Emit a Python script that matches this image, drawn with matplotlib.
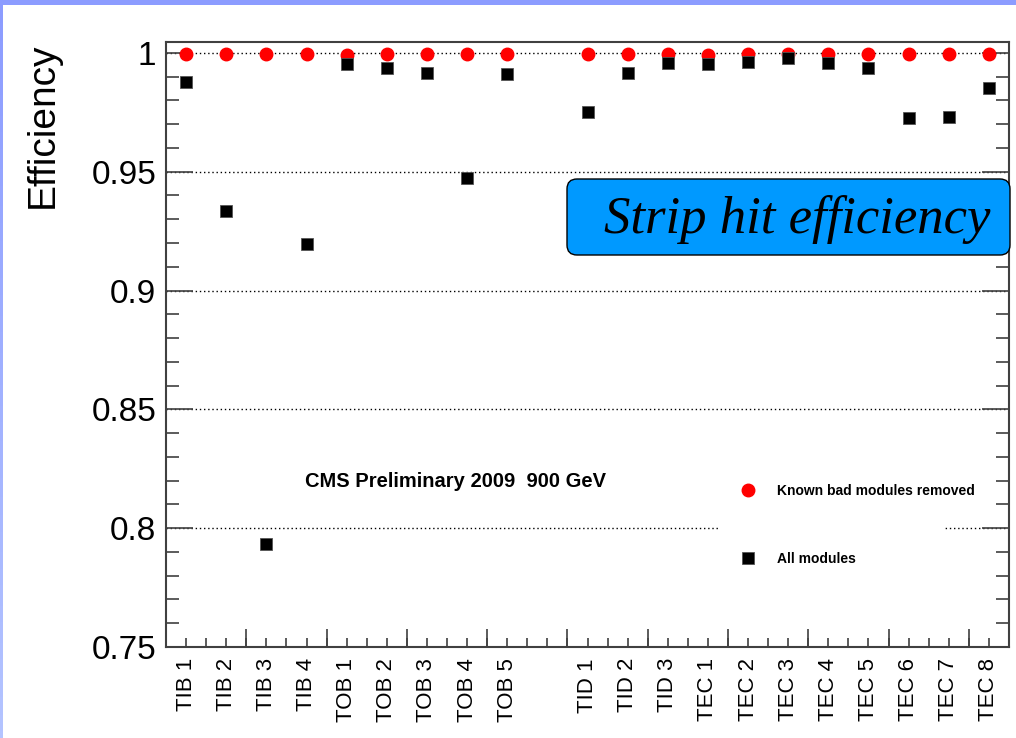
import matplotlib
matplotlib.use("Agg")
import matplotlib.pyplot as plt
import numpy as np
from matplotlib.patches import FancyBboxPatch, Rectangle
from matplotlib.transforms import IdentityTransform

plt.rcParams['font.family'] = ['Liberation Sans', 'DejaVu Sans']

# Layers of the strip tracker, with an empty slot between TOB and TID
layers = ["TIB 1", "TIB 2", "TIB 3", "TIB 4",
          "TOB 1", "TOB 2", "TOB 3", "TOB 4", "TOB 5",
          "TID 1", "TID 2", "TID 3",
          "TEC 1", "TEC 2", "TEC 3", "TEC 4", "TEC 5", "TEC 6", "TEC 7", "TEC 8"]
eff_good = [0.9995, 0.9995, 0.9995, 0.9995,
            0.9993, 0.9995, 0.9995, 0.9995, 0.9995,
            0.9995, 0.9995, 0.9994,
            0.9992, 0.9994, 0.9997, 0.9994, 0.9994, 0.9995, 0.9995, 0.9995]
eff_all = [0.9877, 0.9335, 0.7934, 0.9194,
           0.9955, 0.9938, 0.9917, 0.9474, 0.9911,
           0.9751, 0.9917, 0.9958,
           0.9955, 0.9962, 0.9979, 0.9958, 0.9938, 0.9724, 0.9730, 0.9851]

pos = np.r_[0:9, 10:21]

W, H = 1016, 738
fig = plt.figure(figsize=(W / 100, H / 100), dpi=100)

# slide frame strips
fig.add_artist(Rectangle((0, H - 5), W, 5, transform=IdentityTransform(),
                         fc='#8c9cff', ec='none'))
grad = fig.add_axes([0, 0, 3 / W, 1])
grad.imshow(np.linspace(0, 1, 100).reshape(-1, 1), aspect='auto',
            cmap=matplotlib.colors.LinearSegmentedColormap.from_list('f', ['#8c9cff', '#b4c4ff']))
grad.set_axis_off()

ax = fig.add_axes([166 / W, 1 - 647 / H, 843 / W, (647 - 41.7) / H])
ax.set_xlim(-0.5, 20.5)
ax.set_ylim(0.75, 1.0047)

axis_col = '#404040'
for s in ax.spines.values():
    s.set_color(axis_col)
    s.set_linewidth(1.5)

# y axis: ticks on both sides, labels on the left
ax.set_yticks(np.arange(0.75, 1.001, 0.05))
ax.set_yticks(np.arange(0.75, 1.001, 0.01), minor=True)
ax.set_yticklabels(['0.75', '0.8', '0.85', '0.9', '0.95', '1'])
ax.tick_params(axis='y', which='both', direction='in', left=True, right=True,
               color=axis_col, width=1.2, labelsize=24, pad=7)
ax.tick_params(axis='y', which='major', length=19.5)
ax.tick_params(axis='y', which='minor', length=9.5)

# x axis: layer names at each slot
ax.set_xticks(pos, layers, rotation=90, fontsize=16)
ax.set_xticks(np.arange(-0.5, 20.6, 0.5), minor=True)
ax.tick_params(axis='x', which='both', direction='in', length=6.5, width=1.2,
               color=axis_col, top=False, pad=8)
sec = ax.secondary_xaxis('bottom')
sec.set_xticks(np.arange(1.5, 20, 2), [''] * 10)
sec.tick_params(direction='in', length=13, width=1.2, color=axis_col)
sec.spines['bottom'].set_visible(False)

ax.grid(axis='y', which='major', color='black', linestyle=(0, (1, 2)), linewidth=1.0)

ax.plot(pos, eff_good, 'o', color='#ff0000', ms=9, mec='#ff0000', zorder=3,
        label='Known bad modules removed')
ax.plot(pos, eff_all, 's', color='black', ms=9, mec='#555555', mew=0.6, zorder=4,
        label='All modules')

# white background behind the legend
ax.add_patch(Rectangle((0.657, 0.094), 0.267, 0.206, transform=ax.transAxes,
                       fc='white', ec='none', zorder=1.8))
leg = ax.legend(loc='center left', bbox_to_anchor=(0.682, 0.2016), frameon=False,
                prop={'weight': 'bold', 'size': 10}, handlelength=1.0,
                handletextpad=1.6, labelspacing=3.9, borderpad=0, borderaxespad=0)
leg.set_zorder(5)

ax.text(0.165, 0.2726, 'CMS Preliminary 2009  900 GeV', transform=ax.transAxes,
        fontsize=14.5, fontweight='bold', va='center', ha='left')

fig.text(43 / W, 1 - 42 / H, 'Efficiency', rotation=90, fontsize=28,
         ha='center', va='top')

# title box
fig.add_artist(FancyBboxPatch((567, H - 255), 443, 76,
                              boxstyle='round,pad=0,rounding_size=10',
                              transform=IdentityTransform(),
                              fc='#0099ff', ec='black', lw=1.0))
fig.text(797, H - 233, 'Strip hit efficiency', transform=IdentityTransform(),
         family='Liberation Serif', style='italic', fontsize=38,
         ha='center', va='baseline')

fig.savefig('out.png', dpi=100)
